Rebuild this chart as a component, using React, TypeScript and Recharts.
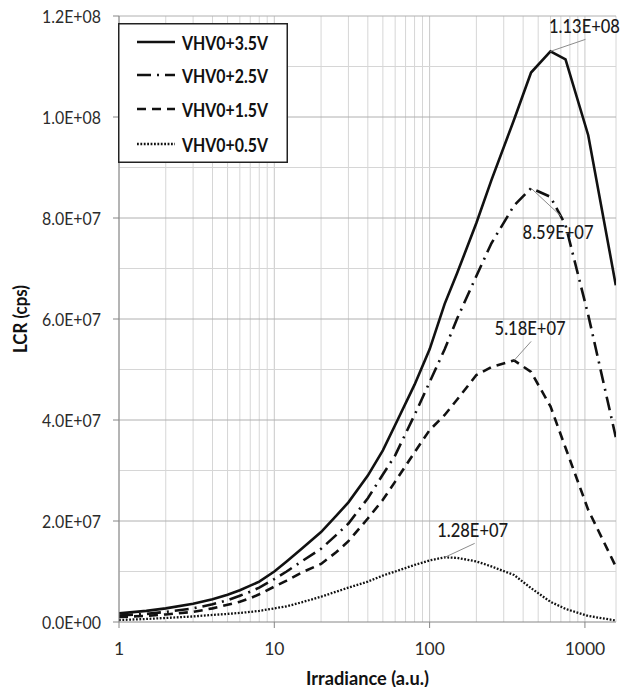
import React from 'react';
import { LineChart, Line, XAxis, YAxis, ReferenceLine, Legend, Label } from 'recharts';

const irradiance = [1, 1.5, 2, 3, 4, 5, 6, 7, 8, 10, 12, 15, 20, 25, 30, 40, 50, 60, 80, 100, 125, 150, 200, 250, 350, 450, 600, 750, 1050, 1580];
const lcr35 = [0.17e7, 0.22e7, 0.27e7, 0.36e7, 0.45e7, 0.54e7, 0.63e7, 0.72e7, 0.8e7, 1.0e7, 1.2e7, 1.45e7, 1.78e7, 2.1e7, 2.37e7, 2.9e7, 3.4e7, 3.9e7, 4.7e7, 5.4e7, 6.3e7, 6.9e7, 7.9e7, 8.75e7, 9.95e7, 10.88e7, 11.3e7, 11.14e7, 9.64e7, 6.67e7];
const lcr25 = [0.13e7, 0.16e7, 0.2e7, 0.27e7, 0.35e7, 0.43e7, 0.52e7, 0.6e7, 0.68e7, 0.85e7, 1.0e7, 1.2e7, 1.45e7, 1.72e7, 1.95e7, 2.45e7, 2.92e7, 3.3e7, 4.1e7, 4.75e7, 5.4e7, 6.0e7, 6.85e7, 7.5e7, 8.25e7, 8.59e7, 8.42e7, 7.86e7, 6.08e7, 3.66e7];
const lcr15 = [0.1e7, 0.12e7, 0.15e7, 0.2e7, 0.27e7, 0.34e7, 0.4e7, 0.47e7, 0.55e7, 0.7e7, 0.82e7, 0.98e7, 1.15e7, 1.38e7, 1.6e7, 2.05e7, 2.42e7, 2.78e7, 3.36e7, 3.8e7, 4.1e7, 4.4e7, 4.89e7, 5.05e7, 5.18e7, 4.95e7, 4.27e7, 3.45e7, 2.22e7, 1.1e7];
const lcr05 = [0.04e7, 0.06e7, 0.08e7, 0.11e7, 0.14e7, 0.16e7, 0.18e7, 0.2e7, 0.22e7, 0.27e7, 0.31e7, 0.39e7, 0.5e7, 0.6e7, 0.68e7, 0.8e7, 0.92e7, 1.0e7, 1.13e7, 1.22e7, 1.28e7, 1.27e7, 1.2e7, 1.1e7, 0.93e7, 0.67e7, 0.4e7, 0.26e7, 0.12e7, 0.03e7];

const seriesNames = ['VHV0+3.5V', 'VHV0+2.5V', 'VHV0+1.5V', 'VHV0+0.5V'];
const xTicks = [1, 10, 100, 1000];
const xMinorGrid = [2, 3, 4, 5, 6, 7, 8, 9, 20, 30, 40, 50, 60, 70, 80, 90, 200, 300, 400, 500, 600, 700, 800, 900];
const yTicks = [0, 2e7, 4e7, 6e7, 8e7, 1e8, 1.2e8];
const yMinorGrid = [1e7, 3e7, 5e7, 7e7, 9e7, 1.1e8];
const X_MAX = 1585;
const xTitle = 'Irradiance (a.u.)';
const yTitle = 'LCR (cps)';

const rows = irradiance.map((x, i) => ({ x, a: lcr35[i], b: lcr25[i], c: lcr15[i], d: lcr05[i] }));

const FONT = 'Lato, "Open Sans", sans-serif';
const INK = '#111';

function sci(v: number, digits: number) {
  if (v === 0) return (0).toFixed(digits) + 'E+00';
  const e = Math.floor(Math.log10(v) + 1e-9);
  const m = v / Math.pow(10, e);
  return m.toFixed(digits) + 'E+' + String(e).padStart(2, '0');
}

const styles = [
  { key: 'a', dash: undefined as string | undefined, width: 2.6 },
  { key: 'b', dash: '14 6 2 6', width: 2.6 },
  { key: 'c', dash: '9 6', width: 2.6 },
  { key: 'd', dash: '1.8 1.6', width: 2.3 },
];

function peakLabel(values: number[], tdx: number, tdy: number, ldx: number, ldy: number) {
  const peak = values.indexOf(Math.max(...values));
  return (props: any) => {
    const { x, y, index } = props;
    if (index !== peak) return <g key={'l' + index} />;
    return (
      <g key={'l' + index}>
        <line x1={x} y1={y} x2={x + ldx} y2={y + ldy} stroke="#8c8c8c" strokeWidth={1} />
        <text x={x + tdx} y={y + tdy} textAnchor="middle" dominantBaseline="central" fontFamily={FONT} fontWeight={500} fontSize={19} fill="#1a1a1a" textLength={71} lengthAdjust="spacingAndGlyphs">
          {sci(values[peak], 2)}
        </text>
      </g>
    );
  };
}

function YTick(props: any) {
  const { x, y, payload } = props;
  return (
    <text x={x} y={y} textAnchor="end" dominantBaseline="central" fontFamily={FONT} fontSize={18} fill="#2b2b2b" textLength={59} lengthAdjust="spacingAndGlyphs">
      {sci(payload.value, 1)}
    </text>
  );
}

function XTick(props: any) {
  const { x, y, payload } = props;
  return (
    <text x={x} y={y} textAnchor="middle" dominantBaseline="central" fontFamily={FONT} fontSize={17.5} fill="#2b2b2b">
      {String(payload.value)}
    </text>
  );
}

function LegendBox() {
  const rowsY = [19, 52, 86, 121];
  return (
    <svg width={170} height={140} style={{ display: 'block' }}>
      <rect x={0.75} y={0.75} width={168.5} height={138.5} fill="#fff" stroke="#222" strokeWidth={1.5} />
      {seriesNames.map((n, i) => (
        <g key={n}>
          <line x1={19} x2={57} y1={rowsY[i]} y2={rowsY[i]} stroke={INK} strokeWidth={styles[i].width} strokeDasharray={styles[i].dash} />
          <text x={64} y={rowsY[i]} dominantBaseline="central" fontFamily={FONT} fontWeight="bold" fontSize={19} fill="#111" textLength={86} lengthAdjust="spacingAndGlyphs">{n}</text>
        </g>
      ))}
    </svg>
  );
}

export default function App() {
  const labelFns = [
    peakLabel(lcr35, 34, -26, 35, -12),
    peakLabel(lcr25, 27, 43, 30, 28),
    peakLabel(lcr15, 16, -33, 17, -19),
    peakLabel(lcr05, 28, -28, 30, -14),
  ];
  return (
    <div style={{ position: 'absolute', left: 0, top: 0, background: '#fff' }}>
      <LineChart width={631} height={687} data={rows} margin={{ top: 16, right: 15, bottom: 0, left: 0 }}>
        {xMinorGrid.map((v) => (
          <ReferenceLine key={'vx' + v} x={v} stroke="#d6d6d6" strokeWidth={1} />
        ))}
        {xTicks.map((v) => (
          <ReferenceLine key={'vX' + v} x={v} stroke="#c8c8c8" strokeWidth={1} />
        ))}
        <ReferenceLine x={X_MAX} stroke="#d6d6d6" strokeWidth={1} />
        {yMinorGrid.map((v) => (
          <ReferenceLine key={'hy' + v} y={v} stroke="#d6d6d6" strokeWidth={1} />
        ))}
        {yTicks.filter((v) => v > 0).map((v) => (
          <ReferenceLine key={'hY' + v} y={v} stroke="#b0b0b0" strokeWidth={1} />
        ))}
        <XAxis
          dataKey="x"
          type="number"
          scale="log"
          domain={[1, X_MAX]}
          ticks={xTicks}
          allowDataOverflow
          height={65}
          tickSize={6}
          tickMargin={20}
          axisLine={{ stroke: '#868686' }}
          tickLine={{ stroke: '#868686' }}
          tick={<XTick />}
        >
          <Label
            content={(p: any) => {
              const vb = p.viewBox;
              return (
                <text x={vb.x + vb.width / 2} y={vb.y + 55} textAnchor="middle" dominantBaseline="central" fontFamily={FONT} fontWeight="bold" fontSize={19} fill="#111" textLength={123} lengthAdjust="spacingAndGlyphs">
                  {xTitle}
                </text>
              );
            }}
          />
        </XAxis>
        <YAxis
          type="number"
          domain={[0, 1.2e8]}
          ticks={yTicks}
          width={119}
          tickSize={6}
          tickMargin={12}
          axisLine={{ stroke: '#868686' }}
          tickLine={{ stroke: '#868686' }}
          tick={<YTick />}
        >
          <Label
            content={(p: any) => {
              const vb = p.viewBox;
              const cy = vb.y + vb.height / 2;
              return (
                <text x={20} y={cy} transform={`rotate(-90 20 ${cy})`} textAnchor="middle" dominantBaseline="central" fontFamily={FONT} fontWeight="bold" fontSize={18} fill="#111" textLength={68} lengthAdjust="spacingAndGlyphs">
                  {yTitle}
                </text>
              );
            }}
          />
        </YAxis>
        {styles.map((s, i) => (
          <Line
            key={s.key}
            dataKey={s.key}
            name={seriesNames[i]}
            type="linear"
            stroke={INK}
            strokeWidth={s.width}
            strokeDasharray={s.dash}
            dot={false}
            activeDot={false}
            isAnimationActive={false}
            label={labelFns[i]}
          />
        ))}
        <Legend
          layout="vertical"
          align="center"
          verticalAlign="middle"
          content={() => <LegendBox />}
          wrapperStyle={{ position: 'absolute', left: 118, top: 23, width: 170, height: 140, margin: 0, padding: 0 }}
        />
      </LineChart>
    </div>
  );
}
